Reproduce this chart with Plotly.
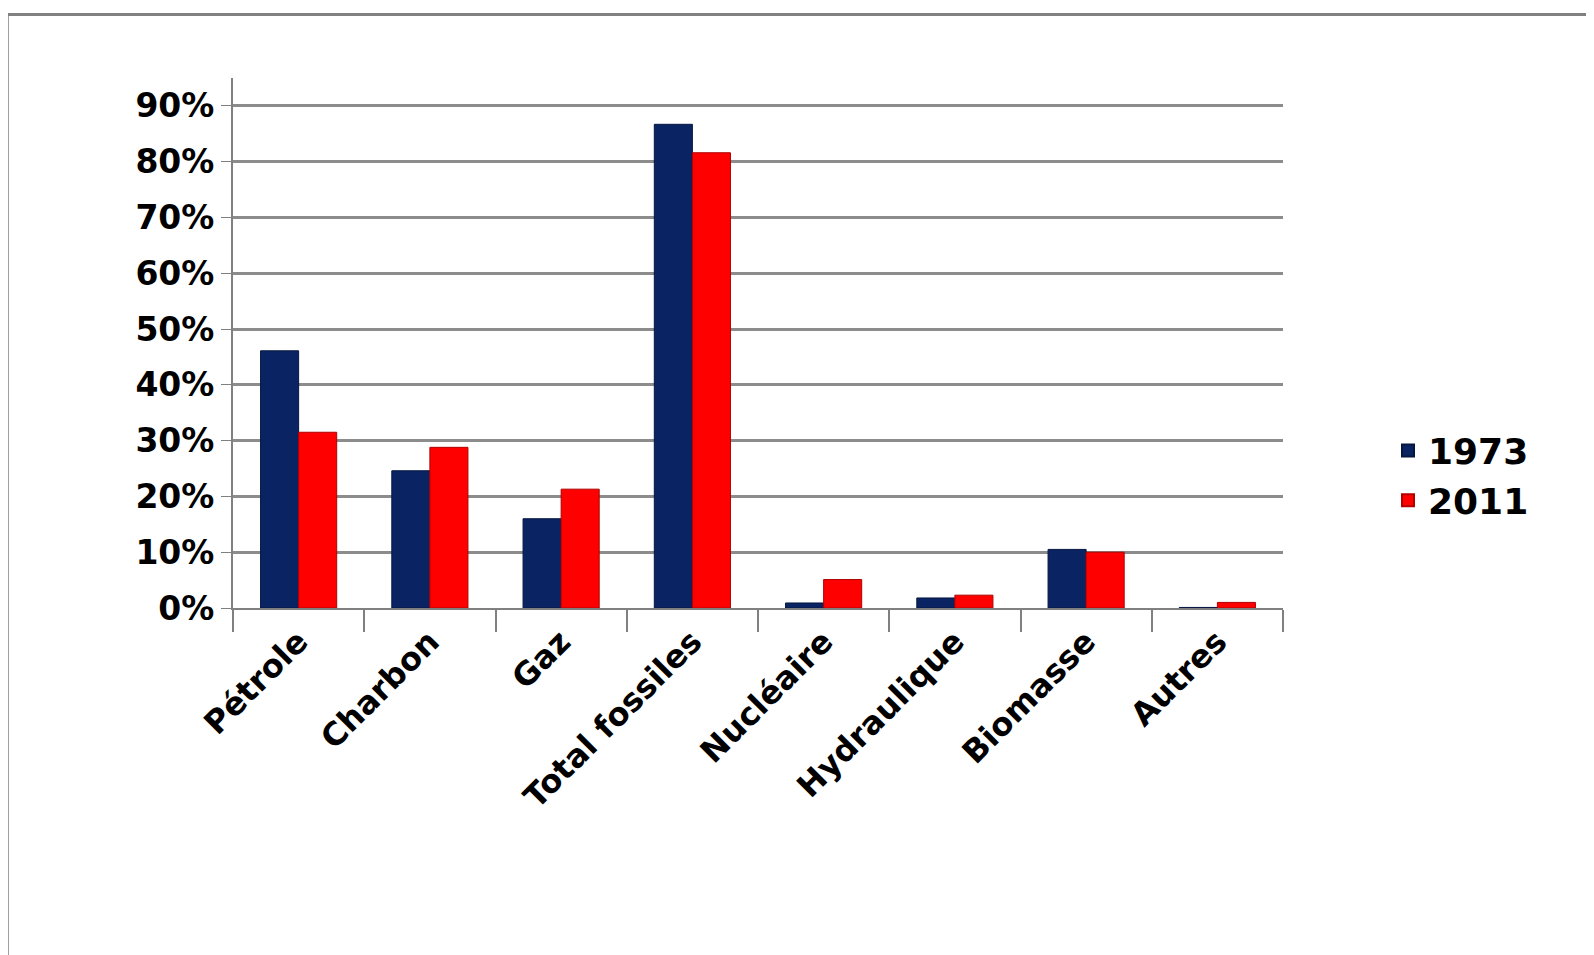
import plotly.graph_objects as go

categories = ["Pétrole", "Charbon", "Gaz", "Total fossiles", "Nucléaire",
              "Hydraulique", "Biomasse", "Autres"]
values_1973 = [0.461, 0.246, 0.160, 0.867, 0.009, 0.018, 0.105, 0.001]
values_2011 = [0.315, 0.288, 0.213, 0.816, 0.051, 0.023, 0.100, 0.010]
tick_vals = [0, 0.1, 0.2, 0.3, 0.4, 0.5, 0.6, 0.7, 0.8, 0.9]
tick_text = ["0%", "10%", "20%", "30%", "40%", "50%", "60%", "70%", "80%", "90%"]

fig = go.Figure()
fig.add_trace(go.Bar(x=categories, y=values_1973, name="<b>1973</b>",
                     marker=dict(color="#0a2463", line=dict(color="#061640", width=1))))
fig.add_trace(go.Bar(x=categories, y=values_2011, name="<b>2011</b>",
                     marker=dict(color="#ff0000", line=dict(color="#b00000", width=1))))

fig.update_layout(
    width=1594, height=955,
    paper_bgcolor="white", plot_bgcolor="white",
    barmode="group", bargap=0.42, bargroupgap=0,
    margin=dict(l=225, r=319, t=70, b=355),
    font=dict(family="DejaVu Sans", size=30, color="black"),
    legend=dict(x=1.1, y=0.25, yanchor="middle",
                font=dict(size=36, family="DejaVu Sans"),
                tracegroupgap=45, itemsizing="constant"),
    xaxis=dict(tickangle=-45, tickfont=dict(size=32, family="DejaVu Sans"),
               tickson="boundaries",
               showline=True, linecolor="#808080", linewidth=2,
               ticks="outside", ticklen=22, tickcolor="#808080", tickwidth=2),
    yaxis=dict(range=[0, 0.95], tickvals=tick_vals,
               ticktext=["<b>" + t + "</b>" for t in tick_text],
               showgrid=True, gridcolor="#8c8c8c", gridwidth=3,
               showline=True, linecolor="#808080", linewidth=2,
               ticks="outside", ticklen=10, tickcolor="#808080",
               tickfont=dict(size=33, family="DejaVu Sans")),
    shapes=[dict(type="rect", xref="paper", yref="paper",
                 x0=-0.215, x1=1.42, y0=-1.06, y1=1.12,
                 line=dict(color="#808080", width=3))],
)
fig.update_xaxes(tickprefix="<b>", ticksuffix="</b>")

fig.write_html("out.html")
